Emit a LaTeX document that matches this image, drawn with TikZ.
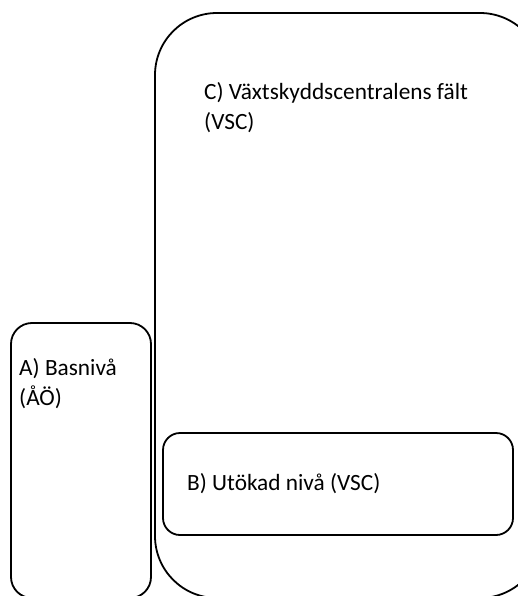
\documentclass[tikz,border=0pt]{standalone}
\usepackage{fontspec}
\setmainfont{Carlito}
\begin{document}
\begin{tikzpicture}[x=1pt,y=-1pt,
  box/.style={draw=black, line width=1.8pt, fill=none},
  lbl/.style={anchor=base west, inner sep=0pt, font=\fontsize{23.3}{30}\selectfont, align=left}]
\useasboundingbox (0,0) rectangle (518,596);
\clip (0,0) rectangle (518,596);
\draw[box, rounded corners=62pt] (155,13) rectangle (542,598);
\draw[box, rounded corners=21pt] (11,323) rectangle (151,598);
\draw[box, rounded corners=17pt] (163,433) rectangle (513,535);
\node[lbl] (c1) at (204,100) {C) Växtskyddscentralens fält};
\node[lbl] (c2) at (204,130) {(VSC)};
\node[lbl] (a1) at (19,375) {A) Basnivå};
\node[lbl] (a2) at (19,405) {(ÅÖ)};
\node[lbl] (b1) at (187,490) {B) Utökad nivå (VSC)};
\end{tikzpicture}
\end{document}
